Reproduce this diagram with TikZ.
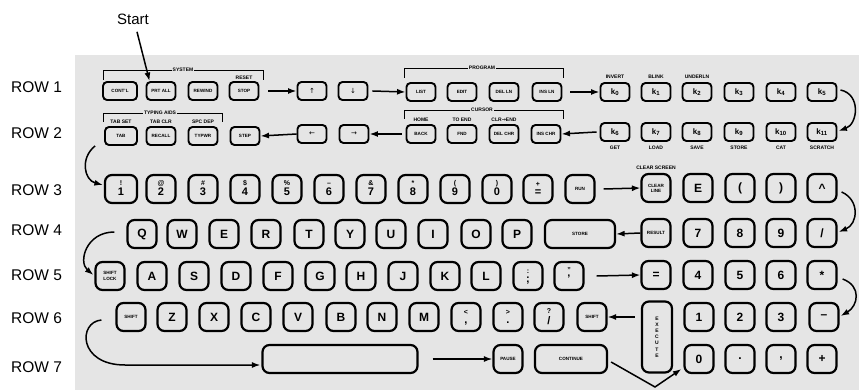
\documentclass[tikz,border=0pt]{standalone}
\usepackage{fontspec}
\setmainfont{Liberation Sans}
\newfontfamily\arrfont{DejaVu Sans}
\usetikzlibrary{arrows.meta,calc}
\definecolor{bg}{gray}{0.9}
\newcommand{\kt}{\fontsize{4.6}{5.2}\selectfont\bfseries}
\newcommand{\lt}{\fontsize{5}{5.5}\selectfont\bfseries}
\newcommand{\kb}{\fontsize{12}{12}\selectfont\bfseries}
\newcommand{\kk}{\fontsize{8}{8}\selectfont\bfseries}
\newcommand{\two}[2]{\renewcommand\arraystretch{0.75}\begin{tabular}{@{}c@{}}\fontsize{7}{8}\selectfont #1\\\fontsize{11}{11}\selectfont #2\end{tabular}}
\begin{document}
\begin{tikzpicture}[x=1pt,y=-1pt,
 kbox/.style={draw,line width=1.9pt,rounded corners=4pt,minimum width=29pt,minimum height=18pt,inner sep=0pt,font=\kt},
 kbig/.style={draw,line width=2.2pt,rounded corners=7pt,minimum width=29pt,minimum height=28pt,inner sep=0pt,font=\kb},
 arr/.style={line width=1.5pt,-{Latex[length=8.5pt,width=6pt]}},
 lab/.style={inner sep=0pt,font=\lt},
 rowlab/.style={anchor=west,inner sep=0pt,font=\fontsize{15.5}{16}\selectfont},
 brk/.style={line width=0.8pt},
 brl/.style={fill=bg,inner sep=1pt,font=\lt}]
\useasboundingbox (0,0) rectangle (859,390);
\fill[bg] (75,55) rectangle (859,390);

% row labels
\node[rowlab] (row1) at (11,87) {ROW 1};
\node[rowlab] (row2) at (11,133) {ROW 2};
\node[rowlab] (row3) at (11,190) {ROW 3};
\node[rowlab] (row4) at (11,230) {ROW 4};
\node[rowlab] (row5) at (11,275) {ROW 5};
\node[rowlab] (row6) at (11,318) {ROW 6};
\node[rowlab] (row7) at (11,367) {ROW 7};
\node[font=\fontsize{15}{16}\selectfont] (start) at (133,19) {Start};

% ---------- row 1
\node[kbox,minimum width=34pt] (cont) at (120,91) {CONT'L};
\node[kbox] (prt) at (161,91) {PRT ALL};
\node[kbox] (rew) at (203,91) {REWIND};
\node[kbox] (stop) at (244,91) {STOP};
\node[kbox,font=\arrfont\fontsize{7}{7}\selectfont] (up) at (312,91) {↑};
\node[kbox,font=\arrfont\fontsize{7}{7}\selectfont] (down) at (353,91) {↓};
\node[kbox] (list) at (421,92) {LIST};
\node[kbox] (edit) at (462,92) {EDIT};
\node[kbox] (delln) at (504,92) {DEL LN};
\node[kbox] (insln) at (547,92) {INS LN};
\foreach \i/\x in {0/615,1/656,2/697,3/739,4/781,5/822}
  \node[kbox,font=\kk] (k\i) at (\x,92) {k\textsubscript{\i}};
\node[lab] (reset) at (244,78) {RESET};
\node[lab] (inv) at (615,77) {INVERT};
\node[lab] (blink) at (656,77) {BLINK};
\node[lab] (undl) at (697,77) {UNDERLN};
\draw[brk] (103,80) -- (103,70) -- (263,70) -- (263,80);
\node[brl] (sys) at (183,70) {SYSTEM};
\draw[brk] (404,78) -- (404,68) -- (563,68) -- (563,78);
\node[brl] (prog) at (482,68) {PROGRAM};

% ---------- row 2
\node[kbox,minimum width=32pt] (tab) at (121,136) {TAB};
\node[kbox] (recall) at (161,136) {RECALL};
\node[kbox] (typwr) at (203,136) {TYPWR};
\node[kbox] (step) at (245,136) {STEP};
\node[kbox,font=\arrfont\fontsize{7}{7}\selectfont] (left) at (312,134) {←};
\node[kbox,font=\arrfont\fontsize{7}{7}\selectfont] (right) at (354,134) {→};
\node[kbox] (back) at (421,134) {BACK};
\node[kbox] (fnd) at (462,134) {FND};
\node[kbox] (delch) at (504,134) {DEL CHR};
\node[kbox] (insch) at (546,134) {INS CHR};
\foreach \i/\x in {6/615,7/656,8/697,9/739,10/781,11/822}
  \node[kbox,font=\kk] (k\i) at (\x,132) {k\textsubscript{\i}};
\node[lab] (tabset) at (121,122) {TAB SET};
\node[lab] (tabclr) at (161,122) {TAB CLR};
\node[lab] (spcdep) at (203,122) {SPC DEP};
\node[lab] (home) at (421,120) {HOME};
\node[lab] (toend) at (462,120) {TO END};
\node[lab] (clrend) at (504,120) {CLR{\arrfont→}END};
\foreach \i/\x/\t in {6/615/GET,7/656/LOAD,8/697/SAVE,9/739/STORE,10/781/CAT,11/822/SCRATCH}
  \node[lab] (l\i) at (\x,148) {\t};
\draw[brk] (103,122) -- (103,113) -- (222,113) -- (222,122);
\node[brl] (typa) at (160,113) {TYPING AIDS};
\draw[brk] (404,119) -- (404,110) -- (563,110) -- (563,119);
\node[brl] (curs) at (482,110) {CURSOR};

% ---------- row 3
\node[kbig,minimum width=32pt] (n1) at (121,189) {\two{!}{1}};
\node[kbig] (n2) at (161,189) {\two{@}{2}};
\node[kbig] (n3) at (203,189) {\two{\#}{3}};
\node[kbig] (n4) at (245,189) {\two{\$}{4}};
\node[kbig] (n5) at (287,189) {\two{\%}{5}};
\node[kbig] (n6) at (329,189) {\two{–}{6}};
\node[kbig] (n7) at (371,189) {\two{\&}{7}};
\node[kbig] (n8) at (413,189) {\two{*}{8}};
\node[kbig] (n9) at (455,189) {\two{(}{9}};
\node[kbig] (n0) at (497,189) {\two{)}{0}};
\node[kbig] (npl) at (538,189) {\two{+}{=}};
\node[kbig,font=\kt] (run) at (580,189) {RUN};
\node[kbig,font=\kt,align=center] (clr) at (656,188) {CLEAR\\LINE};
\node[kbig] (ee) at (698,188) {E};
\node[kbig] (lp) at (740,188) {(};
\node[kbig] (rp) at (781,188) {)};
\node[kbig] (hat) at (822,188) {\textasciicircum};
\node[lab] (clrs) at (656,168) {CLEAR SCREEN};

% ---------- row 4
\foreach \n/\x in {Q/142,W/182,E/224,R/266,T/309,Y/350,U/391,I/433,O/476,P/517}
  \node[kbig] (q\n) at (\x,234) {\n};
\node[kbig,minimum width=70pt,font=\kt] (store) at (580,234) {STORE};
\node[kbig,font=\kt] (result) at (656,233) {RESULT};
\node[kbig] (s7) at (698,233) {7};
\node[kbig] (s8) at (740,233) {8};
\node[kbig] (s9) at (781,233) {9};
\node[kbig] (slash) at (822,233) {/};

% ---------- row 5
\node[kbig,font=\kt,align=center] (shl) at (110,276) {SHIFT\\LOCK};
\foreach \n/\x in {A/152,S/194,D/236,F/278,G/320,H/361,J/403,K/445,L/486}
  \node[kbig] (a\n) at (\x,276) {\n};
\node[kbig] (semi) at (528,276) {\two{:}{;}};
\node[kbig] (quote) at (569,276) {\two{"}{'}};
\node[kbig] (eq) at (656,275) {=};
\node[kbig] (s4) at (698,275) {4};
\node[kbig] (s5) at (740,275) {5};
\node[kbig] (s6) at (781,275) {6};
\node[kbig] (star) at (822,275) {*};

% ---------- row 6
\node[kbig,font=\kt] (shiftL) at (131,317) {SHIFT};
\foreach \n/\x in {Z/172,X/214,C/256,V/298,B/341,N/382,M/424}
  \node[kbig] (z\n) at (\x,317) {\n};
\node[kbig] (lt) at (466,317) {\two{<}{,}};
\node[kbig] (gt) at (508,317) {\two{>}{.}};
\node[kbig] (qm) at (549,317) {\two{?}{/}};
\node[kbig,font=\kt] (shiftR) at (592,317) {SHIFT};
\node[kbig,minimum width=30pt,minimum height=71pt,font=\fontsize{5}{6.2}\selectfont\bfseries,align=center] (exec) at (657,337) {E\\X\\E\\C\\U\\T\\E};
\node[kbig] (s1) at (699,317) {1};
\node[kbig] (s2) at (740,317) {2};
\node[kbig] (s3) at (781,317) {3};
\node[kbig] (minus) at (824,317) {–};

% ---------- row 7
\node[kbig,minimum width=155pt] (space) at (340,359) {};
\node[kbig,font=\kt] (pause) at (508,359) {PAUSE};
\node[kbig,minimum width=72pt,font=\kt] (cont2) at (571,359) {CONTINUE};
\node[kbig] (s0) at (699,359) {0};
\node[kbig] (dot) at (740,359) {.};
\node[kbig] (comma) at (781,359) {,};
\node[kbig] (plus) at (822,359) {+};

% ---------- connectors
\draw[arr] ($(start.south)+(4,4)$) -- ($(prt.north west)+(4,0)$);
\draw[arr] ([xshift=9pt]stop.east) -- (up.west);
\draw[arr] ([xshift=4pt]down.east) -- (list.west);
\draw[arr] ([xshift=8pt]insln.east) -- (k0.west);
\draw[arr] ($(k5.east)+(3,-2)$) .. controls (861,94) and (858,124) .. ($(k11.east)+(1,-1)$);
\draw[arr] ([xshift=-3pt]k6.west) -- (insch.east);
\draw[arr] ([xshift=-4pt]back.west) -- (right.east);
\draw[arr] (left.west) -- (step.east);
\draw[arr] ($(tab.south west)+(-9,0)$) .. controls (80,158) and (84,180) .. ($(n1.west)+(-1,-4)$);
\draw[arr] ([xshift=8pt]run.east) -- (clr.west);
\draw[arr] ($(hat.east)+(4,4)$) .. controls (860,200) and (858,224) .. ($(slash.east)+(1,-1)$);
\draw[arr] (result.west) -- (store.east);
\draw[arr] ($(qQ.west)+(-12,-2)$) .. controls (86,232) and (78,262) .. ($(shl.west)+(-1,-1)$);
\draw[arr] ([xshift=12pt]quote.east) -- (eq.west);
\draw[arr] ($(star.east)+(5,4)$) .. controls (862,286) and (858,306) .. ($(minus.east)+(1,-1)$);
\draw[arr] ($(shiftR.east)+(27,0)$) -- (shiftR.east);
\draw[arr] ($(shiftL.west)+(-14,3)$) .. controls (78,322) and (78,365) .. (125,365) -- ($(space.west)+(-1,6)$);
\draw[arr] ([xshift=14pt]space.east) -- (pause.west);
\draw[arr] ($(cont2.east)+(3,3)$) -- (655,387) -- ($(s0.west)+(-2,10)$);
\end{tikzpicture}
\end{document}
